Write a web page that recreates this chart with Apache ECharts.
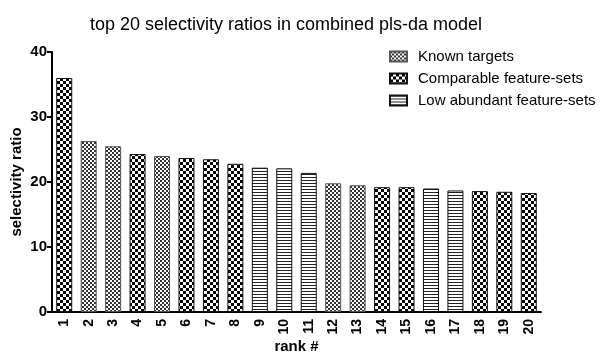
<!DOCTYPE html>
<html>
<head>
<meta charset="utf-8">
<script src="https://cdn.jsdelivr.net/npm/echarts@6/dist/echarts.min.js"></script>
<style>
  html, body { margin: 0; padding: 0; background: #fff; }
  #chart { width: 601px; height: 352px; }
</style>
</head>
<body>
<div id="chart"></div>
<script>
// Ranks 1..20 and their selectivity ratios
const ranks = ['1','2','3','4','5','6','7','8','9','10','11','12','13','14','15','16','17','18','19','20'];
const ratios = [36.0, 26.3, 25.5, 24.3, 24.0, 23.7, 23.5, 22.8, 22.2, 22.1, 21.4, 19.8, 19.5, 19.2, 19.2, 19.0, 18.7, 18.6, 18.5, 18.3];
// Group of each rank: K = known target, C = comparable feature-set, L = low abundant feature-set
const groups = ['C','K','K','C','K','C','C','C','L','L','L','K','K','C','C','L','L','C','C','C'];
const groupNames = { K: 'Known targets', C: 'Comparable feature-sets', L: 'Low abundant feature-sets' };
const yTicks = [0, 10, 20, 30, 40];

// Fill patterns drawn on small tiles
function checker(cell, ink) {
  const c = document.createElement('canvas');
  c.width = c.height = cell * 2;
  const g = c.getContext('2d');
  g.fillStyle = '#fff'; g.fillRect(0, 0, cell * 2, cell * 2);
  g.fillStyle = ink;
  g.fillRect(0, 0, cell, cell);
  g.fillRect(cell, cell, cell, cell);
  return { image: c, repeat: 'repeat' };
}
function hlines(step) {
  const c = document.createElement('canvas');
  c.width = 4; c.height = step;
  const g = c.getContext('2d');
  g.fillStyle = '#fff'; g.fillRect(0, 0, 4, step);
  g.fillStyle = '#222'; g.fillRect(0, 0, 4, 1);
  return { image: c, repeat: 'repeat' };
}
const fills = { K: checker(2, '#333'), C: checker(3, '#000'), L: hlines(3) };

const series = ['K', 'C', 'L'].map(function (k) {
  return {
    name: groupNames[k],
    type: 'bar',
    barWidth: 16,
    barGap: '-100%',
    data: ratios.map(function (v, i) { return groups[i] === k ? v : '-'; }),
    itemStyle: { color: fills[k], borderColor: k === 'K' ? '#555' : '#111', borderWidth: 1 }
  };
});

const font = 'Liberation Sans, Arial';
const chart = echarts.init(document.getElementById('chart'));
chart.setOption({
  animation: false,
  backgroundColor: '#fff',
  title: {
    text: 'top 20 selectivity ratios in combined pls-da model',
    left: 281, top: 11, textAlign: 'center',
    textStyle: { fontFamily: font, fontSize: 18, fontWeight: 'normal', color: '#000' }
  },
  legend: {
    orient: 'vertical',
    left: 384, top: 44,
    itemWidth: 17, itemHeight: 10, itemGap: 7,
    icon: 'rect',
    data: [groupNames.K, groupNames.C, groupNames.L],
    textStyle: { fontFamily: font, fontSize: 15, color: '#000', padding: [0, 0, 0, 6] }
  },
  grid: { left: 52, right: 60, top: 52, bottom: 40, containLabel: false, outerBoundsMode: 'none' },
  xAxis: {
    type: 'category',
    data: ranks,
    name: 'rank #',
    nameLocation: 'middle',
    nameGap: 27,
    nameMoveOverlap: false,
    nameTextStyle: { fontFamily: font, fontSize: 15, fontWeight: 'bold', color: '#000' },
    axisLine: { lineStyle: { color: '#000', width: 2 } },
    axisTick: { alignWithLabel: true, length: 5, lineStyle: { color: '#000', width: 2 } },
    axisLabel: { rotate: 90, margin: 7, fontFamily: font, fontSize: 14, fontWeight: 'bold', color: '#000' }
  },
  yAxis: {
    type: 'value',
    min: 0, max: 40, interval: 10,
    name: 'selectivity ratio',
    nameLocation: 'middle',
    nameGap: 28,
    nameMoveOverlap: false,
    nameTextStyle: { fontFamily: font, fontSize: 15, fontWeight: 'bold', color: '#000' },
    axisLine: { show: true, lineStyle: { color: '#000', width: 2 } },
    axisTick: { show: true, length: 5, lineStyle: { color: '#000', width: 2 } },
    splitLine: { show: false },
    axisLabel: {
      margin: 5, fontFamily: font, fontSize: 15, fontWeight: 'bold', color: '#000',
      formatter: function (v) { return yTicks.indexOf(v) >= 0 ? String(v) : ''; }
    }
  },
  series: series
});
</script>
</body>
</html>
